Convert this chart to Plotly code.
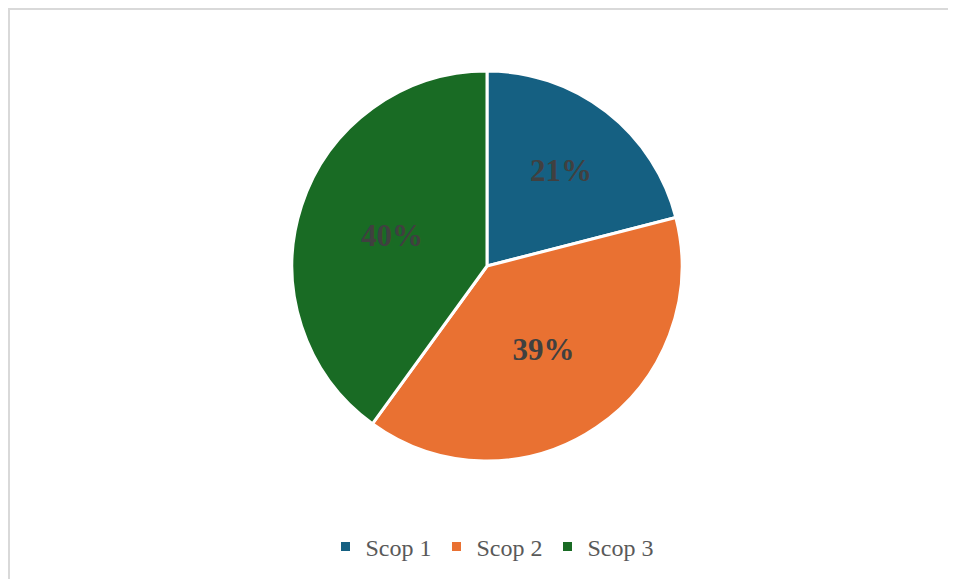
import plotly.graph_objects as go

labels = ["Scop 1", "Scop 2", "Scop 3"]
values = [21, 39, 40]
colors = ["#156082", "#E97132", "#196B24"]

# page has an 8px body margin; figure extends to the right window edge (clipped)
W, H = 956, 571

fig = go.Figure(go.Pie(
    labels=labels,
    values=values,
    sort=False,
    direction="clockwise",
    rotation=0,
    marker=dict(colors=colors, line=dict(color="white", width=3)),
    textinfo="percent",
    texttemplate="%{percent:.0%}",
    textposition="inside",
    insidetextorientation="horizontal",
    textfont=dict(family="Liberation Serif", size=31, color="#404040", weight="bold"),
    domain=dict(x=[284 / W, 674 / W], y=[1 - 453 / H, 1 - 63 / H]),
    hoverinfo="label+percent",
))

fig.update_layout(
    width=W, height=H,
    margin=dict(l=0, r=0, t=0, b=0),
    paper_bgcolor="white",
    plot_bgcolor="white",
    showlegend=True,
    legend=dict(
        orientation="h", x=484 / W, xanchor="center", y=1 - 539 / H, yanchor="middle",
        font=dict(family="Liberation Serif", size=24, color="#595959"),
        traceorder="normal",
    ),
    shapes=[
        dict(type="line", xref="paper", yref="paper", x0=0, x1=1, y0=1 - 1 / H, y1=1 - 1 / H,
             line=dict(color="#D9D9D9", width=2)),
        dict(type="line", xref="paper", yref="paper", x0=1 / W, x1=1 / W, y0=0, y1=1,
             line=dict(color="#D9D9D9", width=2)),
    ],
)

fig.write_html("out.html")
